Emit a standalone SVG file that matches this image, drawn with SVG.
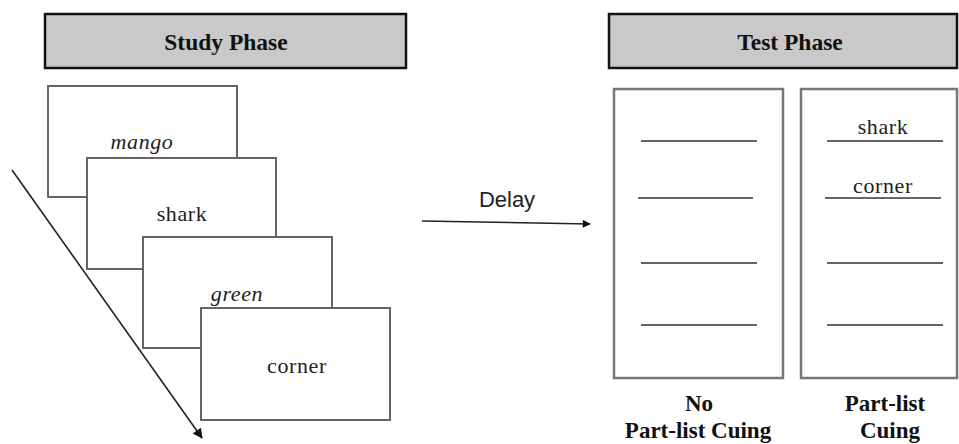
<svg xmlns="http://www.w3.org/2000/svg" width="959" height="444" viewBox="0 0 959 444">
  <defs>
    <marker id="arrow" viewBox="0 0 10 10" refX="9" refY="5" markerWidth="10" markerHeight="8" markerUnits="userSpaceOnUse" orient="auto">
      <path d="M0,0 L10,5 L0,10 z" fill="#111"/>
    </marker>
    <marker id="arrowBig" viewBox="0 0 10 10" refX="9" refY="5" markerWidth="14" markerHeight="10" markerUnits="userSpaceOnUse" orient="auto">
      <path d="M0,0 L10,5 L0,10 z" fill="#111"/>
    </marker>
  </defs>
  <style>
    .header { fill: #c9c9c9; stroke: #111; stroke-width: 2.5; }
    .title { font-family: "Liberation Serif", "Times New Roman", serif; font-weight: bold; font-size: 23.5px; fill: #111; text-anchor: middle; }
    .card { fill: #fff; stroke: #666; stroke-width: 2; }
    .word { font-family: "Liberation Serif", "Times New Roman", serif; font-size: 22px; fill: #222; text-anchor: middle; letter-spacing: 0.6px; }
    .italic { font-style: italic; }
    .panel { fill: #fff; stroke: #777; stroke-width: 2.5; }
    .blank { stroke: #666; stroke-width: 2; }
    .cond { font-family: "Liberation Serif", "Times New Roman", serif; font-weight: bold; font-size: 23px; fill: #111; text-anchor: middle; }
    .delay { font-family: "Liberation Sans", Arial, sans-serif; font-size: 22px; fill: #222; text-anchor: middle; }
    .conn { stroke: #222; stroke-width: 1.6; fill: none; }
  </style>

  <!-- Phase headers -->
  <g id="study-header">
    <rect class="header" x="45" y="14" width="361" height="54"/>
    <text class="title" x="226" y="50">Study Phase</text>
  </g>
  <g id="test-header">
    <rect class="header" x="609" y="14" width="348" height="54"/>
    <text class="title" x="790" y="50">Test Phase</text>
  </g>

  <!-- Study cards, stacked -->
  <g id="card-mango">
    <rect class="card" x="48" y="86" width="189" height="111"/>
    <text class="word italic" x="142" y="149">mango</text>
  </g>
  <g id="card-shark">
    <rect class="card" x="87" y="158" width="189" height="111"/>
    <text class="word" x="182" y="221">shark</text>
  </g>
  <g id="card-green">
    <rect class="card" x="143" y="237" width="189" height="111"/>
    <text class="word italic" x="237" y="301">green</text>
  </g>
  <g id="card-corner">
    <rect class="card" x="201" y="308" width="189" height="112"/>
    <text class="word" x="297" y="373">corner</text>
  </g>

  <!-- Test sheets -->
  <g id="sheet-no-cue">
    <rect class="panel" x="614" y="89" width="169" height="289"/>
    <line class="blank" x1="641" y1="141" x2="757" y2="141"/>
    <line class="blank" x1="638" y1="198" x2="753" y2="198"/>
    <line class="blank" x1="641" y1="263" x2="757" y2="263"/>
    <line class="blank" x1="641" y1="325" x2="757" y2="325"/>
    <text class="cond" x="699" y="411">No</text>
    <text class="cond" x="698" y="438">Part-list Cuing</text>
  </g>
  <g id="sheet-part-list">
    <rect class="panel" x="801" y="89" width="156" height="289"/>
    <line class="blank" x1="827" y1="141" x2="943" y2="141"/>
    <text class="word" x="883" y="134">shark</text>
    <line class="blank" x1="825" y1="198" x2="941" y2="198"/>
    <text class="word" x="883" y="193">corner</text>
    <line class="blank" x1="827" y1="263" x2="943" y2="263"/>
    <line class="blank" x1="827" y1="325" x2="943" y2="325"/>
    <text class="cond" x="885" y="411">Part-list</text>
    <text class="cond" x="890" y="438">Cuing</text>
  </g>

  <!-- Connectors -->
  <g id="connectors">
    <line class="conn" x1="12" y1="170" x2="202" y2="438" marker-end="url(#arrowBig)"/>
    <line class="conn" x1="422" y1="221" x2="590" y2="224" marker-end="url(#arrow)"/>
    <text class="delay" x="507" y="207">Delay</text>
  </g>
</svg>
